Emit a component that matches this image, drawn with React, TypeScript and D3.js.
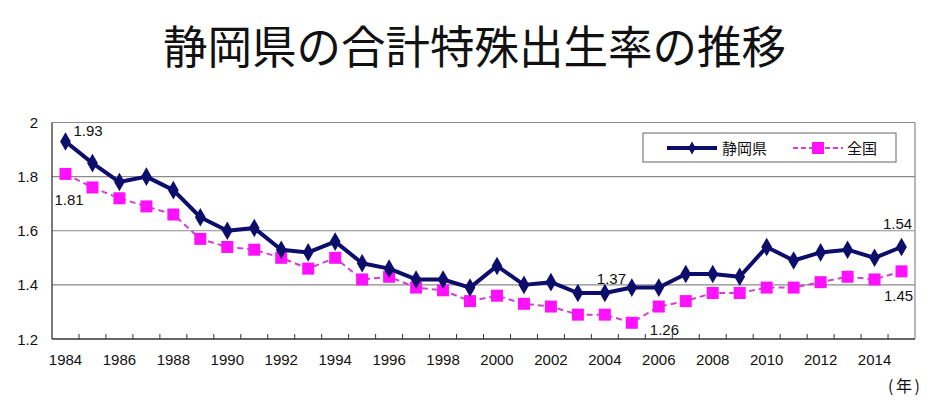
import React from "react";
import * as d3 from "d3";

const years = d3.range(1984, 2016).map(String);
const shizuoka = [
  1.93, 1.85, 1.78, 1.8, 1.75, 1.65, 1.6, 1.61, 1.53, 1.52, 1.56, 1.48, 1.46, 1.42, 1.42, 1.39,
  1.47, 1.4, 1.41, 1.37, 1.37, 1.39, 1.39, 1.44, 1.44, 1.43, 1.54, 1.49, 1.52, 1.53, 1.5, 1.54,
];
const national = [
  1.81, 1.76, 1.72, 1.69, 1.66, 1.57, 1.54, 1.53, 1.5, 1.46, 1.5, 1.42, 1.43, 1.39, 1.38, 1.34,
  1.36, 1.33, 1.32, 1.29, 1.29, 1.26, 1.32, 1.34, 1.37, 1.37, 1.39, 1.39, 1.41, 1.43, 1.42, 1.45,
];
const yTicks = [1.2, 1.4, 1.6, 1.8, 2];
// callouts: series, year, dx, dy, anchor
const callouts: [string, string, number, number, string][] = [
  ["s", "1984", 8, -5, "start"],
  ["n", "1984", -11, 31, "start"],
  ["s", "2004", -8, -9, "start"],
  ["n", "2005", 18, 12, "start"],
  ["s", "2015", -4, -18, "middle"],
  ["n", "2015", -3, 30, "middle"],
];

const W = 934;
const H = 410;
const m = { left: 52, right: 19, top: 122.5, bottom: 71 };
const font = "'Liberation Sans', Arial, sans-serif";
const jpFont = "'Noto Sans CJK JP', sans-serif";
const navy = "#0d0d6b";
const magenta = "#ff11ff";
const pinkLine = "#cc44cc";

export default function App() {
  const x = d3.scaleBand().domain(years).range([m.left, W - m.right]);
  const y = d3.scaleLinear().domain([1.2, 2]).range([H - m.bottom, m.top]);
  const cx = (yr: string) => (x(yr) as number) + x.bandwidth() / 2;
  const line = d3
    .line<number>()
    .x((_, i) => cx(years[i]))
    .y((d) => y(d));
  const diamond = d3.symbol(d3.symbolDiamond, 100)() as string;
  const x0 = m.left;
  const x1 = W - m.right;
  const yb = H - m.bottom;

  return (
    <svg width={W} height={H} style={{ position: "absolute", left: 0, top: 0, background: "#fff" }}>
      <text x={163} y={64} fontFamily={jpFont} fontSize={45} fill="#111"
        textLength={623} lengthAdjust="spacingAndGlyphs">
        静岡県の合計特殊出生率の推移
      </text>

      {/* grid and frame */}
      {yTicks.slice(1).map((t) => (
        <line key={t} x1={x0} x2={x1} y1={y(t)} y2={y(t)} stroke="#8a8a8a" strokeWidth={1.2} />
      ))}
      <line x1={x1} x2={x1} y1={y(2)} y2={yb} stroke="#8a8a8a" strokeWidth={1.2} />
      <line x1={x0} x2={x0} y1={y(2)} y2={yb} stroke="#333" strokeWidth={1.3} />
      <line x1={x0} x2={x1} y1={yb} y2={yb} stroke="#333" strokeWidth={1.3} />
      {years.slice(1).map((yr) => (
        <line key={yr} x1={x(yr)} x2={x(yr)} y1={yb} y2={yb - 5} stroke="#333" strokeWidth={1} />
      ))}

      {yTicks.map((t) => (
        <text key={t} x={x0 - 14} y={y(t) + 5.5} textAnchor="end" fontFamily={font} fontSize={15} fill="#111">
          {t === 2 ? "2" : t.toFixed(1)}
        </text>
      ))}
      {years.filter((_, i) => i % 2 === 0).map((yr) => (
        <text key={yr} x={cx(yr)} y={yb + 26} textAnchor="middle" fontFamily={font} fontSize={15} fill="#111">
          {yr}
        </text>
      ))}
      <text x={888} y={392} fontFamily={jpFont} fontSize={16} fill="#111" textLength={32}>
        (年)
      </text>

      {/* national */}
      <path d={line(national) as string} fill="none" stroke={pinkLine} strokeWidth={2} strokeDasharray="6,4" />
      {national.map((v, i) => (
        <rect key={i} x={cx(years[i]) - 6} y={y(v) - 6} width={12} height={12} fill={magenta} />
      ))}

      {/* shizuoka */}
      <path d={line(shizuoka) as string} fill="none" stroke={navy} strokeWidth={4} strokeLinejoin="round" />
      {shizuoka.map((v, i) => (
        <path key={i} d={diamond} transform={`translate(${cx(years[i])},${y(v)})`} fill={navy} />
      ))}

      {callouts.map(([s, yr, dx, dy, anchor]) => {
        const i = years.indexOf(yr);
        const v = s === "s" ? shizuoka[i] : national[i];
        return (
          <text key={s + yr} x={cx(yr) + dx} y={y(v) + dy} fontFamily={font} fontSize={15} fill="#111"
            textAnchor={anchor as any}>
            {v.toFixed(2)}
          </text>
        );
      })}

      {/* legend */}
      <rect x={643} y={133} width={253} height={29} fill="#fff" stroke="#666" strokeWidth={1} />
      <line x1={667} x2={717} y1={148} y2={148} stroke={navy} strokeWidth={4} />
      <path d={d3.symbol(d3.symbolDiamond, 50)() as string} transform="translate(692,148)" fill={navy} />
      <text x={722} y={154} fontFamily={jpFont} fontSize={15} fill="#111">静岡県</text>
      <line x1={793} x2={843} y1={148} y2={148} stroke={pinkLine} strokeWidth={2} strokeDasharray="5,3" />
      <rect x={812} y={142} width={12} height={12} fill={magenta} />
      <text x={847} y={154} fontFamily={jpFont} fontSize={15} fill="#111">全国</text>
    </svg>
  );
}
